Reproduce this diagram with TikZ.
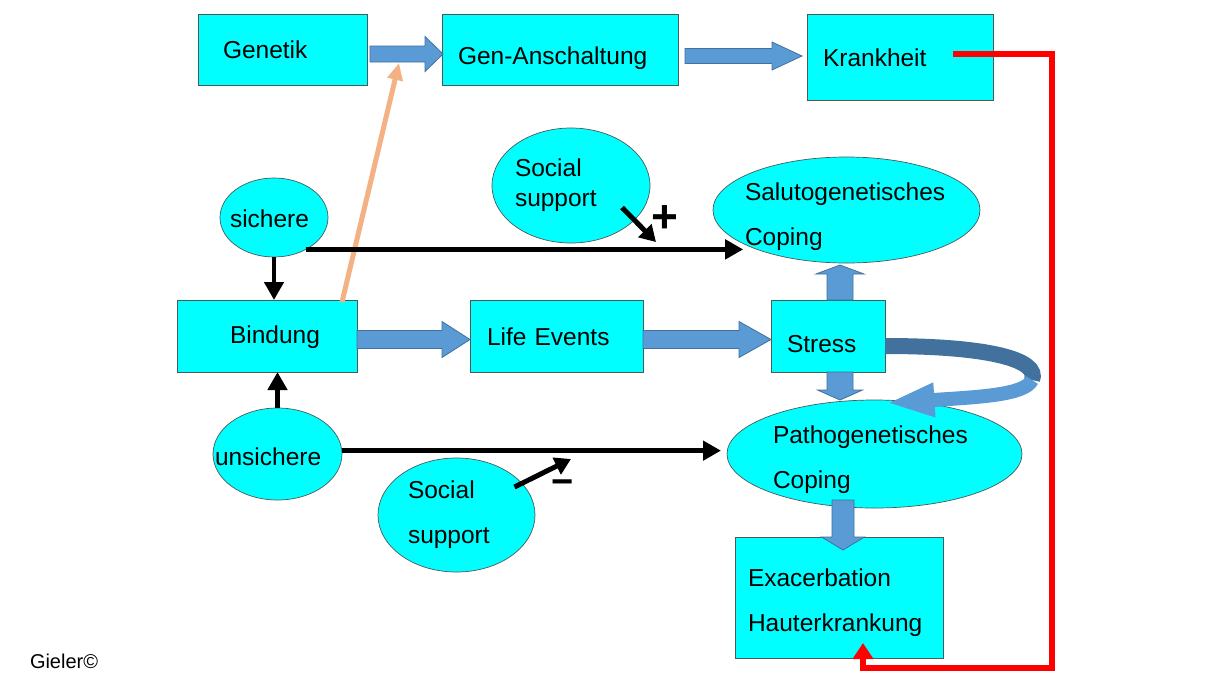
\documentclass[tikz,border=0pt]{standalone}
\usepackage{fontspec}
\setmainfont{Liberation Sans}
\usetikzlibrary{calc,arrows.meta,shapes.geometric}
\definecolor{boxc}{HTML}{00FFFF}
\definecolor{bfill}{HTML}{5B9BD5}
\definecolor{bline}{HTML}{41719C}
\definecolor{cdark}{HTML}{41719C}
\definecolor{orng}{HTML}{F4B183}
\definecolor{edgec}{HTML}{4A5A5A}
\hyphenpenalty=10000
\exhyphenpenalty=10000
\begin{document}
\begin{tikzpicture}[x=1pt,y=-1pt,
  every node/.style={font=\fontsize{24.5}{45}\selectfont, inner sep=0pt, outer sep=0pt},
  box/.style={rectangle, fill=boxc, draw=edgec, line width=0.7pt, align=left},
  oval/.style={ellipse, fill=boxc, draw=edgec, line width=0.7pt, align=left, inner sep=-40pt},
  blk/.style n args={3}{fill=bfill, draw=bline, line width=0.8pt,
    to path={let \p1=(\tikztostart), \p2=(\tikztotarget),
      \n1={veclen(\x2-\x1,\y2-\y1)}, \n2={(\x2-\x1)/\n1}, \n3={(\y2-\y1)/\n1} in
      ({\x1-#1*\n3},{\y1+#1*\n2}) -- ({\x2-#3*\n2-#1*\n3},{\y2-#3*\n3+#1*\n2})
      -- ({\x2-#3*\n2-#2*\n3},{\y2-#3*\n3+#2*\n2}) -- (\x2,\y2)
      -- ({\x2-#3*\n2+#2*\n3},{\y2-#3*\n3-#2*\n2}) -- ({\x2-#3*\n2+#1*\n3},{\y2-#3*\n3-#1*\n2})
      -- ({\x1+#1*\n3},{\y1-#1*\n2}) -- cycle}},
  bar/.style={line width=4.5pt, -{Triangle[width=19pt,length=18pt]}},
  sbar/.style={line width=5pt, -{Triangle[width=18pt,length=16pt]}},
]
\fill[white] (0,0) rectangle (1224,673);
\path[use as bounding box] (0,0) rectangle (1224,673);

\coordinate (gtip) at (399,63);

% boxes
\node[box, minimum width=169pt, minimum height=71pt, text width=119pt, text height=18pt, text depth=0pt] (gen) at (282.5,49.5) {Genetik};
\node[box, minimum width=236pt, minimum height=71pt, text width=204pt, text height=30pt, text depth=0pt] (gan) at (560,49.5) {Gen-Anschaltung};
\node[box, minimum width=186pt, minimum height=86pt, text width=154pt, text height=18pt, text depth=0pt] (krank) at (900,57) {Krankheit};
\node[box, minimum width=180pt, minimum height=72pt, text width=74pt, text height=14pt, text depth=0pt] (bind) at (267,336) {Bindung};
\node[box, minimum width=173pt, minimum height=72pt, text width=139pt, text height=18pt, text depth=0pt] (life) at (556.5,336) {Life Events};
\node[box, minimum width=114pt, minimum height=72pt, text width=82pt, text height=32pt, text depth=0pt] (stress) at (828,336) {Stress};
\node[box, minimum width=208pt, minimum height=121pt, text width=182pt] (exac) at (839,597.5) {\rule{0pt}{29pt}Exacerbation\\Hauterkrankung};

% ellipses
\node[oval, minimum width=108pt, minimum height=79pt, text width=88pt, text height=20.6pt, text depth=0pt] (sich) at (274,217.5) {sichere};
\node[oval, minimum width=129pt, minimum height=92pt, text width=125pt, text height=22pt, text depth=0pt] (unsich) at (277.5,454) {unsichere};
\node[oval, minimum width=158pt, minimum height=115pt, text width=112pt] (ss1) at (571,185.5) {Social\\[-15pt]support};
\node[oval, minimum width=157pt, minimum height=114pt, text width=97pt] (ss2) at (456.5,515) {Social\\support};
\node[oval, minimum width=267pt, minimum height=106pt, text width=203pt] (salu) at (846.5,210) {\rule{0pt}{32pt}Salutogenetisches\\Coping};
\node[oval, minimum width=295pt, minimum height=108pt, text width=203pt] (patho) at (874.5,454) {\rule{0pt}{30pt}Pathogenetisches\\Coping};

% orange arrow
\draw[orng, line width=5pt, -{Triangle[width=15pt,length=17pt]}] ($(bind.north east)+(-15,2)$) -- (gtip);

% block arrows
\draw[blk={8}{17.5}{18}] ($(gen.east)+(3,4.5)$) to ($(gan.west)+(1,4.5)$);
\draw[blk={7.5}{14}{30}] ($(gan.east)+(7,6.5)$) to ($(krank.west)+(-5,-1)$);
\draw[blk={9}{18}{28}] ($(bind.east)+(0,3.5)$) to ($(life.west)+(0,3.5)$);
\draw[blk={9}{18}{32}] ($(life.east)+(0,3.5)$) to ($(stress.west)+(0,3.5)$);
\draw[blk={13}{24}{9}] ($(stress.north)+(12,0)$) to ($(stress.north |- salu.south)+(12,2)$);
\draw[blk={13}{22.5}{10}] ($(stress.south)+(12,0)$) to ($(stress.south |- patho.north)+(12,0)$);
\draw[blk={11}{21.5}{13}] ($(exac.north |- patho.south)+(4,-8)$) to ($(exac.north)+(4,13)$);

% curved arrow from Stress back to Pathogenetisches Coping
\coordinate (turn) at ($(stress.east)+(147,44)$);
\draw[line width=16pt, draw=cdark] ($(stress.east)+(0,10)$) .. controls +(105,0) and +(8,-20) .. (turn);
\draw[line width=14pt, draw=bfill, -{Triangle[width=31pt,length=48pt]}] (turn) .. controls +(-7,15) and +(93,-6) .. ($(patho.north)+(12,3)$);

% black arrows
\draw[bar] (sich.south) -- (sich.south |- bind.north);
\draw[bar] (unsich.north) -- (unsich.north |- bind.south);
\draw[bar] (sich.-45) -- (sich.-45 -| salu.198);
\draw[bar] (unsich.3) -- ($(unsich.3 -| patho.west)+(-6,0)$);

% social support influences
\coordinate (plustip) at (656,242);
\coordinate (minustip) at (571,459);
\draw[sbar] ($(ss1.center)+(51,22)$) -- (plustip);
\draw[sbar] ($(ss2.center)+(58,-28)$) -- (minustip);
\node[font=\fontsize{46}{46}\selectfont\bfseries, anchor=base] (plus) at (665,232) {+};
\node[font=\fontsize{38}{38}\selectfont\bfseries, anchor=base] (minus) at (562.5,494) {−};

% red feedback line
\draw[red, line width=5.5pt, -{Triangle[width=20pt,length=16pt]}] ($(krank.east)+(-40,-3)$) -- ++(99,0) |- ($(exac.south)+(24,10)$) -- ($(exac.south)+(24,-15)$);

\node[font=\fontsize{20}{24}\selectfont, anchor=base west] (gieler) at (30,668) {Gieler©};
\end{tikzpicture}
\end{document}
